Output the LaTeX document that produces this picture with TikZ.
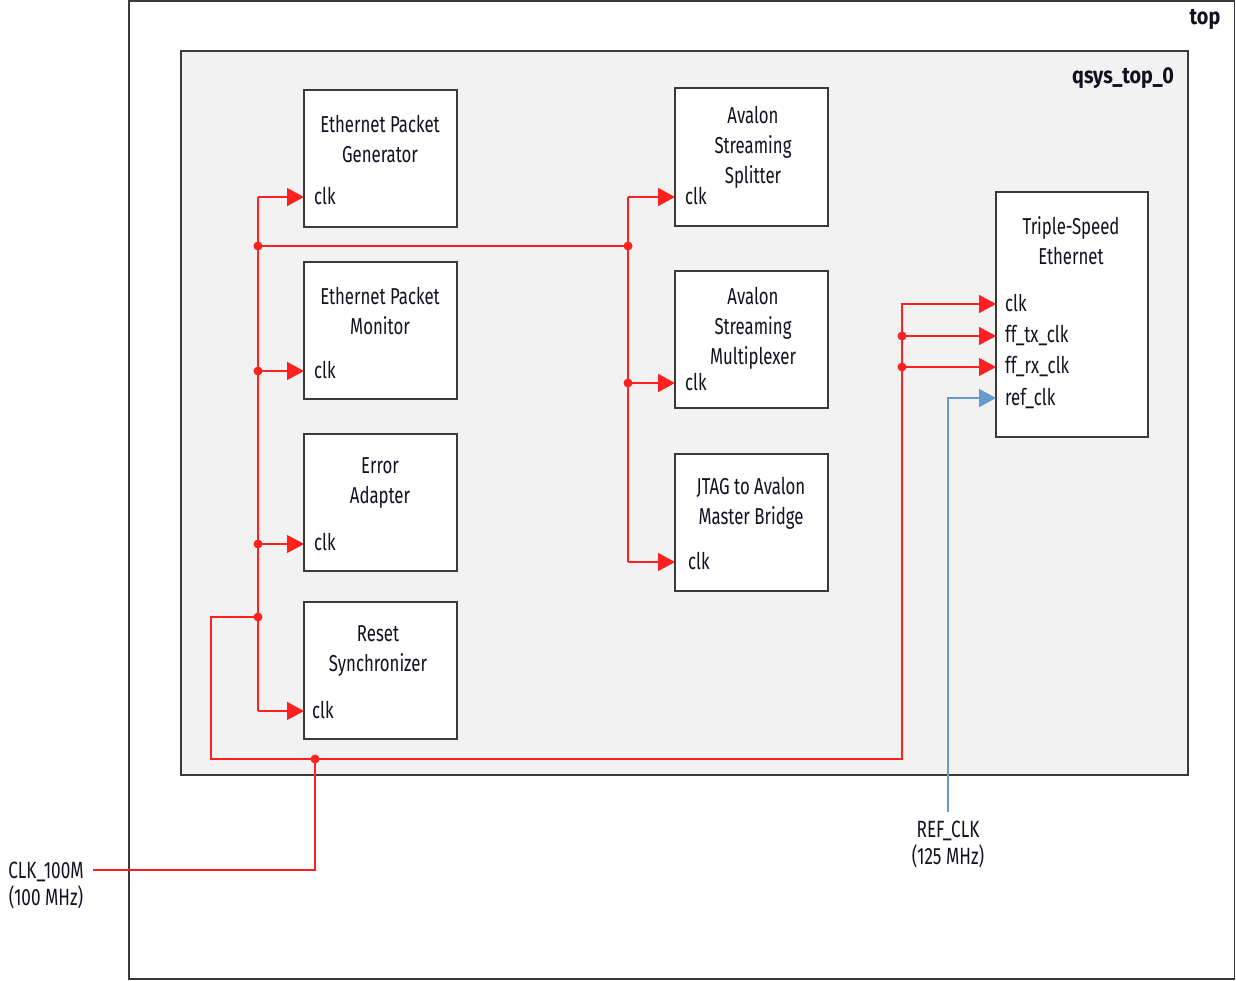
\documentclass[tikz,border=0pt]{standalone}
\usepackage{fontspec}
\setmainfont{Fira Sans}[FakeStretch=0.73]
\newfontfamily\boldlbl{Fira Sans}[FakeStretch=0.86]
\usetikzlibrary{arrows.meta}
\definecolor{wire}{HTML}{FF2020}
\definecolor{bluew}{HTML}{6699CC}
\definecolor{panel}{HTML}{F2F2F2}
\definecolor{edge}{HTML}{3A3A3A}
\definecolor{ink}{HTML}{111122}
\begin{document}
\begin{tikzpicture}[x=1pt,y=-1pt,
 blk/.style={draw=edge, line width=1.3pt, fill=white, inner sep=0pt, outer sep=0pt, anchor=north west, minimum width=153pt, minimum height=137pt},
 ttl/.style={align=center, text=ink, font=\fontsize{23}{30}\selectfont, inner sep=0pt},
 ext/.style={align=center, text=ink, font=\fontsize{23.5}{27}\selectfont, inner sep=0pt},
 pinlbl/.style={anchor=base west, text=ink, font=\fontsize{23}{25}\selectfont, inner sep=0pt},
 bold/.style={text=ink, font=\boldlbl\fontsize{23}{25}\selectfont\bfseries, inner sep=0pt},
 w/.style={draw=wire, line width=1.4pt},
 arr/.style={w, -{Triangle[length=17pt,width=18pt]}},
 barr/.style={draw=bluew, line width=1.4pt, -{Triangle[length=17pt,width=18pt]}},
 dot/.style={circle, fill=wire, inner sep=0pt, minimum size=9pt},
]
\useasboundingbox (0,0) rectangle (1236,980);
% frames
\draw[edge, line width=1.3pt] (129,1) rectangle (1234.5,979);
\node[bold, anchor=center] (toplbl) at (1205,19) {top};
\draw[edge, line width=1.3pt, fill=panel] (181,51) rectangle (1188,775);
\node[bold, anchor=center] (qsyslbl) at (1123,78) {qsys\_top\_0};

% blocks
\node[blk] (epg) at (304,90) {};
\node[ttl] (epgt) at (380,139) {Ethernet Packet\\Generator};
\node[blk] (epm) at (304,262) {};
\node[ttl] (epmt) at (380,311) {Ethernet Packet\\Monitor};
\node[blk] (ea) at (304,434) {};
\node[ttl] (eat) at (380,483) {Error\\Adapter};
\node[blk] (rs) at (304,602) {};
\node[ttl] (rst) at (378,651) {Reset\\Synchronizer};
\node[blk, minimum height=138pt] (spl) at (675,88) {};
\node[ttl] (splt) at (753,147) {Avalon\\Streaming\\Splitter};
\node[blk] (mux) at (675,271) {};
\node[ttl] (muxt) at (753,328) {Avalon\\Streaming\\Multiplexer};
\node[blk] (jt) at (675,454) {};
\node[ttl] (jtt) at (751,503) {JTAG to Avalon\\Master Bridge};
\node[blk, minimum width=152pt, minimum height=245pt] (tse) at (996,192) {};
\node[ttl] (tset) at (1071,241) {Triple-Speed\\Ethernet};

% pins
\coordinate (epgclk) at (304,197);
\coordinate (epmclk) at (304,371);
\coordinate (eaclk) at (304,544);
\coordinate (rsclk) at (304,711);
\coordinate (splclk) at (675,197);
\coordinate (muxclk) at (675,383);
\coordinate (jtclk) at (675,562);
\coordinate (tseclk) at (996,304);
\coordinate (tsetx) at (996,336);
\coordinate (tserx) at (996,367);
\coordinate (tseref) at (996,398);
\node[pinlbl] (l1) at (314,204) {clk};
\node[pinlbl] (l2) at (314,378) {clk};
\node[pinlbl] (l3) at (314,550) {clk};
\node[pinlbl] (l4) at (312,718) {clk};
\node[pinlbl] (l5) at (685,204) {clk};
\node[pinlbl] (l6) at (685,390) {clk};
\node[pinlbl] (l7) at (688,569) {clk};
\node[pinlbl] (l8) at (1005,311) {clk};
\node[pinlbl] (l9) at (1005,342) {ff\_tx\_clk};
\node[pinlbl] (l10) at (1005,373) {ff\_rx\_clk};
\node[pinlbl] (l11) at (1005,405) {ref\_clk};

% junctions
\coordinate (j1) at (258,246);
\coordinate (j2) at (258,371);
\coordinate (j3) at (258,544);
\coordinate (j4) at (258,617);
\coordinate (j5) at (628,246);
\coordinate (j6) at (628,383);
\coordinate (j7) at (902,336);
\coordinate (j8) at (902,367);
\coordinate (j9) at (315,759);
\coordinate (c1) at (211,617);
\coordinate (c2) at (211,759);
\coordinate (c3) at (902,759);
\coordinate (c4) at (93,870);
\coordinate (c5) at (948,812);

% red wiring
\draw[w] (j1 |- epgclk) -- (j1 |- rsclk);
\draw[arr] (j1 |- epgclk) -- (epgclk);
\draw[arr] (j2) -- (epmclk);
\draw[arr] (j3) -- (eaclk);
\draw[arr] (j1 |- rsclk) -- (rsclk);
\draw[w] (j1) -- (j5);
\draw[w] (j5 |- splclk) -- (j5 |- jtclk);
\draw[arr] (j5 |- splclk) -- (splclk);
\draw[arr] (j6) -- (muxclk);
\draw[arr] (j5 |- jtclk) -- (jtclk);
\draw[arr] (j4) -- (c1) -- (c2) -- (c3) -- (c3 |- tseclk) -- (tseclk);
\draw[arr] (j7) -- (tsetx);
\draw[arr] (j8) -- (tserx);
\draw[w] (j9) -- (j9 |- c4) -- (c4);
\draw[barr] (c5) -- (c5 |- tseref) -- (tseref);

\foreach \p in {j1,j2,j3,j4,j5,j6,j7,j8,j9} \node[dot] at (\p) {};

% external labels
\node[ext] (clkin) at (46,885) {CLK\_100M\\(100 MHz)};
\node[ext] (refin) at (948,844) {REF\_CLK\\(125 MHz)};
\end{tikzpicture}
\end{document}
